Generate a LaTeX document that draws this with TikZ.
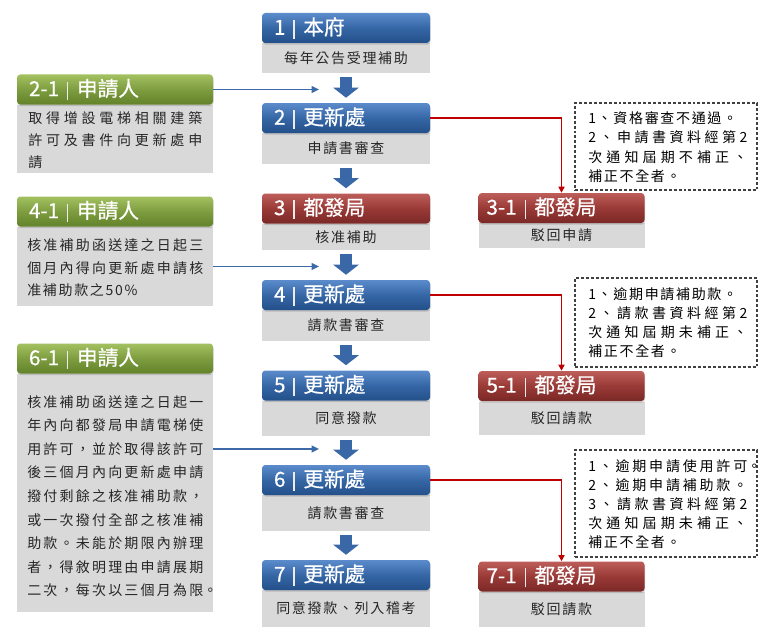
\documentclass[tikz,border=0pt]{standalone}
\usepackage{fontspec}
\setmainfont{Noto Sans CJK TC}
\newfontfamily\lsfont[LetterSpace=12]{Noto Sans CJK TC}
\newfontfamily\jlfont{Noto Sans CJK TC}
\newfontfamily\hdfont[FakeBold=0.6]{Noto Sans CJK TC}
\usetikzlibrary{arrows.meta,shadows,calc}
\definecolor{bluetop}{HTML}{5B8BCB}
\definecolor{bluemid}{HTML}{3566A5}
\definecolor{bluebot}{HTML}{23508A}
\definecolor{redtop}{HTML}{BE5E5A}
\definecolor{redmid}{HTML}{9A3A37}
\definecolor{redbot}{HTML}{7A2826}
\definecolor{grntop}{HTML}{A3C160}
\definecolor{grnmid}{HTML}{7E9D40}
\definecolor{grnbot}{HTML}{62822A}
\definecolor{boxgray}{HTML}{D9D9D9}
\definecolor{arrblue}{HTML}{3A67A6}
\definecolor{lineblue}{HTML}{3C69A8}
\definecolor{linered}{HTML}{C00000}
\definecolor{txt}{HTML}{262626}
\def\SPR#1{\SPRa#1\SPRend}
\def\SPRa#1{#1\SPRb}
\def\SPRb#1{\ifx#1\SPRend\else\hfil#1\expandafter\SPRb\fi}
\def\SPRend{}
\newcommand\jline[2]{\leavevmode\hbox to #1{\jlfont\SPR{#2}}}
\newcommand\hdtext[2]{#1\hspace{6pt}{\color{white!85!gray}\rule[-3pt]{0.9pt}{14pt}}\hspace{6.5pt}#2}
\begin{document}
\begin{tikzpicture}[x=0.75pt,y=-0.75pt,
  hdr/.style={rounded corners=2.5pt, minimum height=22.5pt, inner ysep=0pt, inner xsep=9pt,
    align=left, text=white, font=\hdfont\fontsize{15.5pt}{18pt}\selectfont,
    drop shadow={shadow xshift=0.4pt, shadow yshift=-1.2pt, opacity=0.35}},
  hdrc/.style={hdr, text width=108pt},
  hdrl/.style={hdr, text width=129pt},
  hdrr/.style={hdr, inner xsep=6pt, text width=112.5pt},
  bluehdr/.style={top color=bluetop, bottom color=bluebot, middle color=bluemid},
  redhdr/.style={top color=redtop, bottom color=redbot, middle color=redmid},
  grnhdr/.style={top color=grntop, bottom color=grnbot, middle color=grnmid},
  gbox/.style={fill=boxgray, inner sep=0pt, text=txt, font=\lsfont\fontsize{10.5pt}{14pt}\selectfont},
  gboxc/.style={gbox, minimum width=126pt},
  gboxr/.style={gbox, minimum width=124.5pt},
  btxt/.style={inner sep=0pt, text width=160pt, align=left, text=txt, anchor=base west,
    font=\lsfont\fontsize{10.5pt}{#1}\selectfont},
  dtxt/.style={btxt=#1, text=black},
  dbox/.style={draw=black!75, dash pattern=on 2.2pt off 1.5pt, line width=0.8pt, fill=white,
    minimum width=136.5pt, inner sep=0pt},
  blockarr/.style={draw=arrblue, line width=9pt, -{Triangle[width=18.75pt,length=7.5pt]}},
  thinarr/.style={draw=lineblue, line width=1.1pt, -{Triangle[width=5pt,length=5.5pt]}},
  redarr/.style={draw=linered, line width=1.1pt, -{Triangle[width=4.5pt,length=4.5pt]}}
]
\useasboundingbox (0,0) rectangle (767,635);
\fill[white] (0,0) rectangle (767,635);

% central gray boxes
\node[gboxc, minimum height=22.5pt] (g1) at (346,58) {每年公告受理補助};
\node[gboxc, minimum height=23.25pt] (g2) at (346,148.5) {申請書審查};
\node[gboxc, minimum height=19.5pt] (g3) at (346,237) {核准補助};
\node[gboxc, minimum height=23.25pt] (g4) at (346,325.5) {請款書審查};
\node[gboxc, minimum height=26.25pt] (g5) at (346,418.5) {同意撥款};
\node[gboxc, minimum height=27pt] (g6) at (346,513) {請款書審查};
\node[gboxc, minimum height=27.75pt] (g7) at (346,608.5) {同意撥款、列入稽考};

% central headers
\node[hdrc, bluehdr] (h1) at (346,28) {\hdtext{1}{本府}};
\node[hdrc, bluehdr] (h2) at (346,118) {\hdtext{2}{更新處}};
\node[hdrc, redhdr] (h3) at (346,208.5) {\hdtext{3}{都發局}};
\node[hdrc, bluehdr] (h4) at (346,295) {\hdtext{4}{更新處}};
\node[hdrc, bluehdr] (h5) at (346,385.5) {\hdtext{5}{更新處}};
\node[hdrc, bluehdr] (h6) at (346,480) {\hdtext{6}{更新處}};
\node[hdrc, bluehdr] (h7) at (346,575) {\hdtext{7}{更新處}};

% left column
\node[gbox, minimum width=147pt, minimum height=51pt] (l2g) at (115,139) {};
\node[hdrl, grnhdr] (l2h) at (115,89.5) {\hdtext{2-1}{申請人}};
\node[gbox, minimum width=147pt, minimum height=59.25pt] (l4g) at (115,266.5) {};
\node[hdrl, grnhdr] (l4h) at (115,211.5) {\hdtext{4-1}{申請人}};
\node[gbox, minimum width=147pt, minimum height=178.5pt] (l6g) at (115,493) {};
\node[hdrl, grnhdr] (l6h) at (115,358.5) {\hdtext{6-1}{申請人}};

\node[btxt=16.5pt] (t2) at (28,123) {\jline{130.5pt}{取得增設電梯相關建築}\\\jline{130.5pt}{許可及書件向更新處申}\\請};
\node[btxt=16.875pt] (t4) at (27,250.5) {\jline{132pt}{核准補助函送達之日起三}\\\jline{132pt}{個月內得向更新處申請核}\\准補助款之50\%};
\node[btxt=17.7pt] (t6) at (27,407) {\jline{132pt}{核准補助函送達之日起一}\\\jline{132pt}{年內向都發局申請電梯使}\\\jline{132pt}{用許可，並於取得該許可}\\\jline{132pt}{後三個月內向更新處申請}\\\jline{132pt}{撥付剩餘之核准補助款，}\\\jline{132pt}{或一次撥付全部之核准補}\\\jline{132pt}{助款。未能於期限內辦理}\\\jline{132pt}{者，得敘明理由申請展期}\\\jline{132pt}{二次，每次以三個月為限}{\jlfont 。}};

% right column
\node[gboxr, minimum height=18.75pt] (r3g) at (561.5,235.5) {駁回申請};
\node[hdrr, redhdr] (r3h) at (561.5,208) {\hdtext{3-1}{都發局}};
\node[gboxr, minimum height=24.75pt] (r5g) at (561.5,418.5) {駁回請款};
\node[hdrr, redhdr] (r5h) at (561.5,386) {\hdtext{5-1}{都發局}};
\node[gboxr, minimum height=26.25pt] (r7g) at (561.5,609.5) {駁回請款};
\node[hdrr, redhdr] (r7h) at (561.5,576.5) {\hdtext{7-1}{都發局}};

% dashed notes
\node[dbox, minimum height=65.25pt] (d1) at (666,146.5) {};
\node[dbox, minimum height=66.75pt] (d5) at (666,322.5) {};
\node[dbox, minimum height=80.25pt] (d7) at (666,503.5) {};
\node[dtxt=14.625pt] (td1) at (588,123) {1、資格審查不通過。\\\jline{119.25pt}{2、申請書資料經第2}\\\jline{119.25pt}{次通知屆期不補正、}\\補正不全者。};
\node[dtxt=14.25pt] (td5) at (588,299) {1、逾期申請補助款。\\\jline{119.25pt}{2、請款書資料經第2}\\\jline{119.25pt}{次通知屆期未補正、}\\補正不全者。};
\node[dtxt=14.25pt] (td7) at (588,471) {\jline{119.25pt}{1、逾期申請使用許可}{\jlfont 。}\\\jline{119.25pt}{2、逾期申請補助款。}\\\jline{119.25pt}{3、請款書資料經第2}\\\jline{119.25pt}{次通知屆期未補正、}\\補正不全者。};

% block arrows
\draw[blockarr] ([yshift=-3pt]g1.south) -- ([yshift=3.75pt]h2.north);
\draw[blockarr] ([yshift=-3pt]g2.south) -- ([yshift=3.75pt]h3.north);
\draw[blockarr] ([yshift=-3pt]g3.south) -- ([yshift=3.75pt]h4.north);
\draw[blockarr] ([yshift=-3pt]g4.south) -- ([yshift=3.75pt]h5.north);
\draw[blockarr] ([yshift=-3pt]g5.south) -- ([yshift=3.75pt]h6.north);
\draw[blockarr] ([yshift=-3pt]g6.south) -- ([yshift=3.75pt]h7.north);

% applicant arrows
\coordinate (ax) at (319,0);
\coordinate (s6) at (212,449);
\draw[thinarr] (l2h.east) -- (l2h.east -| ax);
\draw[thinarr] (l4g.east) -- (l4g.east -| ax);
\draw[thinarr] (l6g.east |- s6) -- (ax |- s6);

% rejection connectors
\draw[redarr] (h2.east) -| (r3h.north);
\draw[redarr] (h4.east) -| (r5h.north);
\draw[redarr] (h6.east) -| (r7h.north);
\end{tikzpicture}
\end{document}
